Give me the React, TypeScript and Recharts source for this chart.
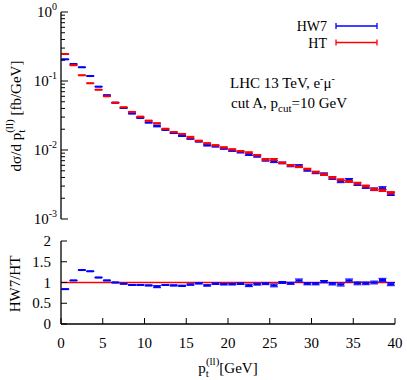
import React from "react"
import { ScatterChart, Scatter, XAxis, YAxis, ErrorBar, ReferenceLine, Legend } from "recharts"

// bins of p_t^(ll), 1 GeV wide
const binStart = [
    0, 1, 2, 3, 4, 5, 6, 7, 8, 9, 10, 11, 12, 13, 14, 15, 16, 17, 18, 19,
    20, 21, 22, 23, 24, 25, 26, 27, 28, 29, 30, 31, 32, 33, 34, 35, 36, 37, 38, 39,
]
const BIN_W = 1

// dsigma/dpt [fb/GeV]
const hw7 = [
    0.206, 0.176, 0.158, 0.118, 0.0828, 0.0622, 0.0485, 0.0406, 0.0338, 0.0292,
    0.025, 0.0223, 0.0196, 0.0176, 0.016, 0.0146, 0.0133, 0.0117, 0.0113, 0.0105,
    0.0098, 0.0093, 0.0086, 0.0081, 0.0071, 0.0068, 0.0065, 0.0059, 0.0059, 0.0051,
    0.0047, 0.0045, 0.0039, 0.0035, 0.0037, 0.0032, 0.0029, 0.0027, 0.0028, 0.0023,
]
const ht = [
    0.246, 0.169, 0.121, 0.0927, 0.0748, 0.06, 0.0485, 0.0416, 0.0356, 0.0304,
    0.0266, 0.0244, 0.0203, 0.0182, 0.0171, 0.0153, 0.0136, 0.0125, 0.0117, 0.0109,
    0.0102, 0.0096, 0.0092, 0.0084, 0.0073, 0.0073, 0.0065, 0.006, 0.0057, 0.0053,
    0.0048, 0.0044, 0.004, 0.0037, 0.0035, 0.0033, 0.003, 0.0027, 0.0026, 0.0024,
]
// relative errors
const hw7Rel = [
    0.004, 0.004, 0.005, 0.005, 0.006, 0.007, 0.008, 0.009, 0.01, 0.011,
    0.012, 0.03, 0.014, 0.015, 0.016, 0.017, 0.018, 0.02, 0.021, 0.022,
    0.023, 0.025, 0.03, 0.027, 0.028, 0.035, 0.03, 0.032, 0.04, 0.034,
    0.035, 0.036, 0.038, 0.04, 0.045, 0.042, 0.043, 0.045, 0.05, 0.048,
]
const htRel = [
    0.003, 0.003, 0.004, 0.004, 0.005, 0.005, 0.006, 0.007, 0.008, 0.009,
    0.01, 0.011, 0.012, 0.013, 0.014, 0.03, 0.015, 0.016, 0.017, 0.018,
    0.019, 0.02, 0.02, 0.022, 0.03, 0.032, 0.024, 0.025, 0.026, 0.027,
    0.028, 0.029, 0.03, 0.031, 0.032, 0.033, 0.034, 0.035, 0.036, 0.04,
]
// HW7 / HT
const ratio = [
    0.84, 1.05, 1.3, 1.27, 1.12, 1.05, 1.0, 0.97, 0.94, 0.94,
    0.93, 0.9, 0.94, 0.93, 0.92, 0.95, 0.98, 0.93, 0.97, 0.96,
    0.96, 0.97, 0.93, 0.96, 0.97, 0.93, 1.0, 0.98, 1.05, 0.97,
    0.97, 1.02, 0.97, 0.95, 1.05, 0.98, 0.98, 1.0, 1.06, 0.96,
]
const ratioErr = [
    0.003, 0.003, 0.005, 0.005, 0.005, 0.006, 0.007, 0.008, 0.009, 0.01,
    0.01, 0.025, 0.012, 0.012, 0.013, 0.015, 0.015, 0.016, 0.017, 0.018,
    0.018, 0.019, 0.03, 0.022, 0.022, 0.035, 0.024, 0.025, 0.035, 0.026,
    0.027, 0.028, 0.03, 0.035, 0.035, 0.035, 0.033, 0.034, 0.04, 0.037,
]

const xTicks = [0, 5, 10, 15, 20, 25, 30, 35, 40]
const logTicks = [
    0.001, 0.002, 0.003, 0.004, 0.005, 0.006, 0.007, 0.008, 0.009,
    0.01, 0.02, 0.03, 0.04, 0.05, 0.06, 0.07, 0.08, 0.09,
    0.1, 0.2, 0.3, 0.4, 0.5, 0.6, 0.7, 0.8, 0.9, 1,
]
const ratioTicks = [0, 0.5, 1, 1.5, 2]
const legendOrder = ["HW7", "HT"]

const FONT = "'Liberation Serif', 'DejaVu Serif', serif"
const BLUE = "#0000ff"
const RED = "#ff0000"
const FRAME = { stroke: "#000", strokeWidth: 1.3 }
// drawn half-width of a bin mark (leaves a small gap between bins, like the original)
const MARK_HALF = BIN_W * 0.42

const toPoints = (vals: number[], rel: number[]) =>
    vals.map((v, i) => ({ x: binStart[i] + BIN_W / 2, y: v, ex: MARK_HALF, ey: v * rel[i] }))

const hw7Pts = toPoints(hw7, hw7Rel)
const htPts = toPoints(ht, htRel)
const ratioPts = ratio.map((v, i) => ({ x: binStart[i] + BIN_W / 2, y: v, ex: MARK_HALF, ey: ratioErr[i] }))

const Empty = () => <g />

// ticks point into the plot, labels sit outside
const XTick = (props: any) => {
    const { x, y, payload, dir, label } = props
    return (
        <g>
            <line x1={x} x2={x} y1={y} y2={y + dir * 6} stroke="#000" strokeWidth={1} />
            {label && (
                <text x={x} y={y + 24} textAnchor="middle" fontFamily={FONT} fontSize={15} fill="#000">
                    {payload.value}
                </text>
            )}
        </g>
    )
}

const LogTick = (props: any) => {
    const { x, y, payload, dir, label } = props
    const lg = Math.log10(payload.value)
    const e = Math.round(lg)
    const major = Math.abs(lg - e) < 1e-6
    return (
        <g>
            <line x1={x} x2={x + dir * (major ? 7 : 4)} y1={y} y2={y} stroke="#000" strokeWidth={1} />
            {label && major && (
                <text x={x - 4} y={y + 5} textAnchor="end" fontFamily={FONT} fontSize={15} fill="#000">
                    10<tspan dy={-7} fontSize={10}>{e}</tspan>
                </text>
            )}
        </g>
    )
}

const RatioTick = (props: any) => {
    const { x, y, payload, dir, label } = props
    return (
        <g>
            <line x1={x} x2={x + dir * 6} y1={y} y2={y} stroke="#000" strokeWidth={1} />
            {label && (
                <text x={x - 10} y={y + 5} textAnchor="end" fontFamily={FONT} fontSize={15} fill="#000">
                    {payload.value}
                </text>
            )}
        </g>
    )
}

const LegendBox = ({ payload }: any) => {
    const items = [...(payload || [])].sort(
        (a: any, b: any) => legendOrder.indexOf(a.value) - legendOrder.indexOf(b.value)
    )
    return (
        <svg width={130} height={40}>
            {items.map((p: any, i: number) => {
                const y = 11 + i * 16.5
                return (
                    <g key={p.value}>
                        <text x={62} y={y + 5} textAnchor="end" fontFamily={FONT} fontSize={14} fill="#000">
                            {p.value}
                        </text>
                        <line x1={71} x2={112} y1={y} y2={y} stroke={p.color} strokeWidth={1.3} />
                        <line x1={71} x2={71} y1={y - 3} y2={y + 3} stroke={p.color} strokeWidth={1.3} />
                        <line x1={112} x2={112} y1={y - 3} y2={y + 3} stroke={p.color} strokeWidth={1.3} />
                    </g>
                )
            })}
        </svg>
    )
}

const axisCommon = {
    type: "number" as const,
    allowDataOverflow: true,
    interval: 0 as const,
    tickSize: 0,
    tickMargin: 0,
    tickLine: false,
    axisLine: FRAME,
}

export default function App() {
    return (
        <div style={{ position: "absolute", left: 0, top: 0, width: 407, height: 380, background: "#fff" }}>
            <div style={{ position: "absolute", left: 0, top: 0 }}>
                <ScatterChart width={407} height={230} margin={{ top: 12, right: 12, bottom: 11, left: 0 }}>
                    <XAxis {...axisCommon} xAxisId="b" dataKey="x" domain={[0, 40]} ticks={xTicks} height={0}
                        tick={<XTick dir={-1} />} />
                    <XAxis {...axisCommon} xAxisId="t" orientation="top" dataKey="x" domain={[0, 40]} ticks={xTicks} height={0}
                        tick={<XTick dir={1} />} />
                    <YAxis {...axisCommon} yAxisId="l" dataKey="y" scale="log" domain={[0.001, 1]} ticks={logTicks} width={61}
                        tick={<LogTick dir={1} label />} />
                    <YAxis {...axisCommon} yAxisId="r" orientation="right" dataKey="y" scale="log" domain={[0.001, 1]} ticks={logTicks} width={0}
                        tick={<LogTick dir={-1} />} />
                    <Scatter xAxisId="b" yAxisId="l" name="HW7" data={hw7Pts} fill={BLUE} shape={Empty} isAnimationActive={false}>
                        <ErrorBar dataKey="ex" direction="x" width={0} stroke={BLUE} strokeWidth={2} isAnimationActive={false} />
                        <ErrorBar dataKey="ey" direction="y" width={4} stroke={BLUE} strokeWidth={1} isAnimationActive={false} />
                    </Scatter>
                    <Scatter xAxisId="b" yAxisId="l" name="HT" data={htPts} fill={RED} shape={Empty} isAnimationActive={false}>
                        <ErrorBar dataKey="ex" direction="x" width={0} stroke={RED} strokeWidth={2} isAnimationActive={false} />
                        <ErrorBar dataKey="ey" direction="y" width={4} stroke={RED} strokeWidth={1} isAnimationActive={false} />
                    </Scatter>
                    <Legend layout="horizontal" verticalAlign="middle" align="center"
                        wrapperStyle={{ left: 265, top: 15, width: 130, height: 40 }} content={<LegendBox />} />
                </ScatterChart>
            </div>
            <div style={{ position: "absolute", left: 0, top: 230 }}>
                <ScatterChart width={407} height={150} margin={{ top: 11, right: 12, bottom: 0, left: 0 }}>
                    <XAxis {...axisCommon} xAxisId="b" dataKey="x" domain={[0, 40]} ticks={xTicks} height={56}
                        tick={<XTick dir={-1} label />} />
                    <XAxis {...axisCommon} xAxisId="t" orientation="top" dataKey="x" domain={[0, 40]} ticks={xTicks} height={0}
                        tick={<XTick dir={1} />} />
                    <YAxis {...axisCommon} yAxisId="l" dataKey="y" domain={[0, 2]} ticks={ratioTicks} width={61}
                        tick={<RatioTick dir={1} label />} />
                    <YAxis {...axisCommon} yAxisId="r" orientation="right" dataKey="y" domain={[0, 2]} ticks={ratioTicks} width={0}
                        tick={<RatioTick dir={-1} />} />
                    <ReferenceLine xAxisId="b" yAxisId="l" y={1} stroke={RED} strokeWidth={1.3} />
                    <Scatter xAxisId="b" yAxisId="l" name="HW7/HT" data={ratioPts} fill={BLUE} shape={Empty} isAnimationActive={false}>
                        <ErrorBar dataKey="ex" direction="x" width={0} stroke={BLUE} strokeWidth={2} isAnimationActive={false} />
                        <ErrorBar dataKey="ey" direction="y" width={4} stroke={BLUE} strokeWidth={1} isAnimationActive={false} />
                    </Scatter>
                </ScatterChart>
            </div>
            <svg width={407} height={380} style={{ position: "absolute", left: 0, top: 0, pointerEvents: "none" }}
                fontFamily={FONT} fill="#000">
                <text transform="translate(21,116) rotate(-90)" textAnchor="middle" fontSize={15}>
                    dσ/d p<tspan dy={4} fontSize={11}>t</tspan>
                    <tspan dx={-3} dy={-12} fontSize={11}>(ll)</tspan>
                    <tspan dy={8}> [fb/GeV]</tspan>
                </text>
                <text transform="translate(20,284) rotate(-90)" textAnchor="middle" fontSize={15}>HW7/HT</text>
                <text x={228} y={373} textAnchor="middle" fontSize={15}>
                    p<tspan dy={4} fontSize={11}>t</tspan>
                    <tspan dx={-3} dy={-12} fontSize={11}>(ll)</tspan>
                    <tspan dy={8}>[GeV]</tspan>
                </text>
                <text x={230} y={88} fontSize={15}>
                    LHC 13 TeV, e<tspan dy={-6} fontSize={10}>-</tspan>
                    <tspan dy={6}>μ</tspan>
                    <tspan dy={-6} fontSize={10}>-</tspan>
                </text>
                <text x={231} y={108} fontSize={15}>
                    cut A, p<tspan dy={4} fontSize={11}>cut</tspan>
                    <tspan dy={-4}>=10 GeV</tspan>
                </text>
            </svg>
        </div>
    )
}
